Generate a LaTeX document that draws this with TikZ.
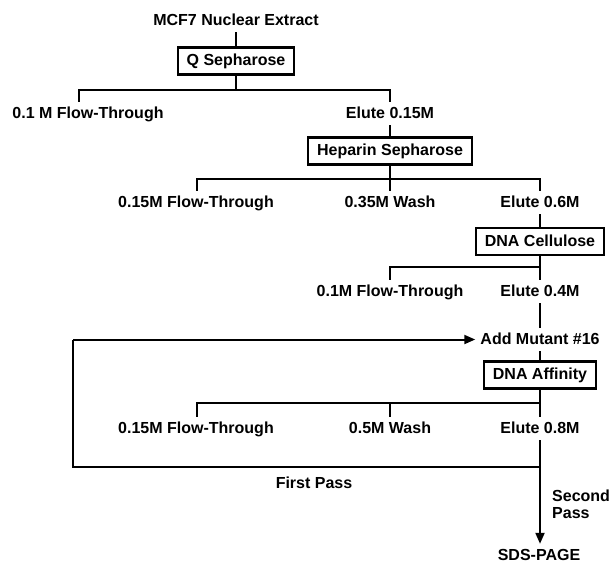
\documentclass[tikz,border=0pt]{standalone}
\usepackage{fontspec}
\setmainfont{Liberation Sans}
\usetikzlibrary{arrows.meta}
\newcommand\lsb{\fontsize{16}{17}\selectfont\bfseries}
\tikzset{
  lbl/.style={font=\lsb, text height=12pt, text depth=3pt, inner xsep=0pt, inner ysep=4pt, anchor=base},
  stagebox/.style={draw, line width=2.1pt, font=\lsb, text height=12pt, text depth=3pt, inner xsep=9pt, inner ysep=0pt, minimum height=27pt},
  ln/.style={line width=2pt},
  arr/.style={ln, -{Triangle[length=11pt,width=9pt]}},
}
\begin{document}
\begin{tikzpicture}[x=1pt,y=-1pt]
\useasboundingbox (0,0) rectangle (612,565);
% nodes
\node[lbl] (mcf) at (236,25) {MCF7 Nuclear Extract};
\node[stagebox] (q) at (236,61) {Q Sepharose};
\coordinate (j1) at (236,90);
\coordinate (j1l) at (79,90);
\coordinate (j1r) at (390,90);
\node[lbl] (ft1) at (88,118) {0.1 M Flow-Through};
\node[lbl] (e1) at (390,118) {Elute 0.15M};
\node[stagebox] (hep) at (390,151) {Heparin Sepharose};
\coordinate (j2) at (390,179);
\coordinate (j2l) at (197,179);
\coordinate (j2r) at (540,179);
\node[lbl] (ft2) at (196,207) {0.15M Flow-Through};
\node[lbl] (w2) at (390,207) {0.35M Wash};
\node[lbl] (e2) at (540,207) {Elute 0.6M};
\node[stagebox] (dc) at (540,241.5) {DNA Cellulose};
\coordinate (j3) at (540,267);
\coordinate (j3l) at (390,267);
\node[lbl] (ft3) at (390,296) {0.1M Flow-Through};
\node[lbl] (e3) at (540,296) {Elute 0.4M};
\node[lbl] (am) at (540,344) {Add Mutant \#16};
\node[stagebox] (da) at (540,375) {DNA Affinity};
\coordinate (j4) at (540,403);
\coordinate (j4l) at (197,403);
\coordinate (j4m) at (390,403);
\node[lbl] (ft4) at (196,433) {0.15M Flow-Through};
\node[lbl] (w4) at (390,433) {0.5M Wash};
\node[lbl] (e4) at (540,433) {Elute 0.8M};
\coordinate (j5) at (540,467);
\coordinate (lb) at (73,467);
\coordinate (lt) at (73,339.5);
\node[lbl] (fp) at (314,488) {First Pass};
\node[font=\lsb, align=left, inner sep=0pt, anchor=north west] (sp) at (552,489.5) {Second\\Pass};
\node[lbl] (sds) at (539,560) {SDS-PAGE};
% connectors
\draw[ln] (mcf.south) -- (q.north);
\draw[ln] (q.south) -- (j1);
\draw[ln] (j1l |- ft1.north) -- (j1l) -- (j1r) -- (e1.north);
\draw[ln] (e1.south) -- (hep.north);
\draw[ln] (hep.south) -- (j2);
\draw[ln] (j2l |- ft2.north) -- (j2l) -- (j2r) -- (e2.north);
\draw[ln] (j2) -- (w2.north);
\draw[ln] (e2.south) -- (dc.north);
\draw[ln] (dc.south) -- (j3) -- (e3.north);
\draw[ln] (j3) -- (j3l) -- (ft3.north);
\draw[ln] (e3.south) -- (am.north);
\draw[ln] (am.south) -- (da.north);
\draw[ln] (da.south) -- (j4) -- (e4.north);
\draw[ln] (j4) -- (j4l) -- (j4l |- ft4.north);
\draw[ln] (j4m) -- (w4.north);
\draw[arr] (e4.south) -- (e4.south |- sds.north);
\draw[ln] (j5) -- (lb) -- (lt);
\draw[arr, shorten >=5pt] (lt) -- (lt -| am.west);
\end{tikzpicture}
\end{document}
